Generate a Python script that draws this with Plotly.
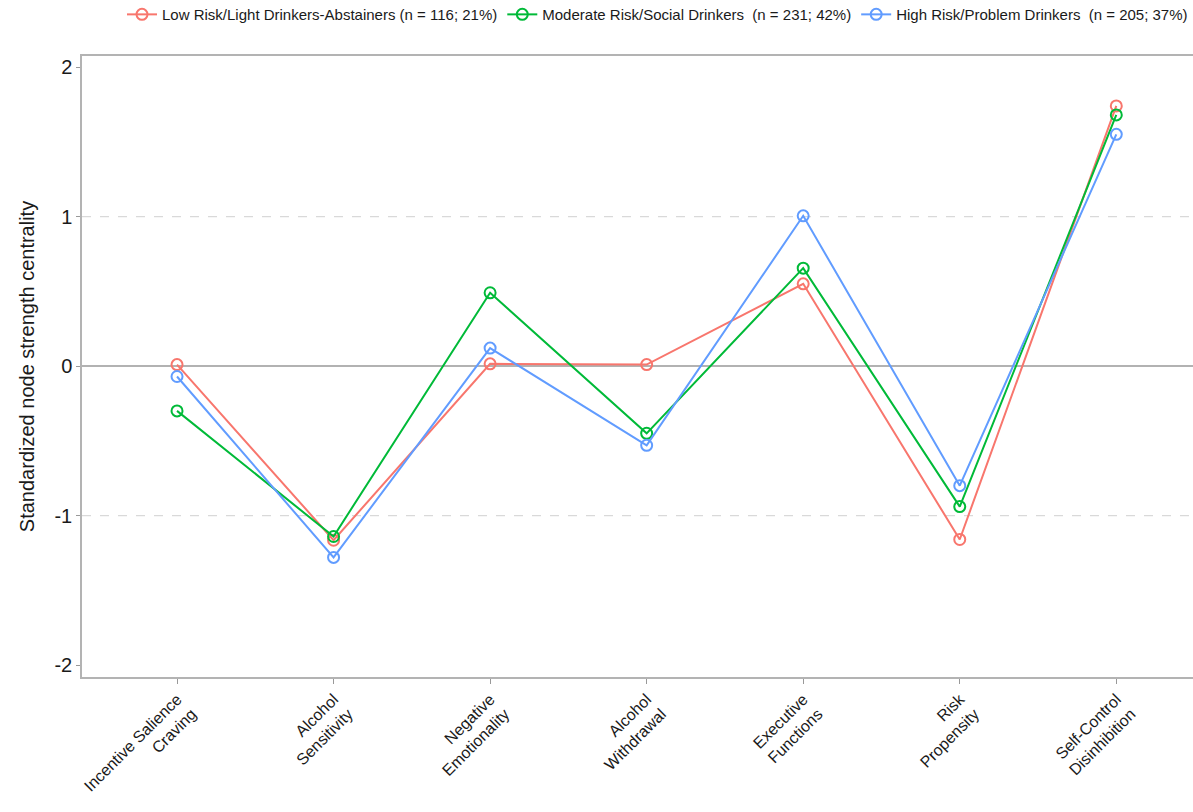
import plotly.graph_objects as go

categories = ["Incentive Salience<br>Craving", "Alcohol<br>Sensitivity", "Negative<br>Emotionality",
              "Alcohol<br>Withdrawal", "Executive<br>Functions", "Risk<br>Propensity",
              "Self-Control<br>Disinhibition"]
series_names = ["Low Risk/Light Drinkers-Abstainers (n = 116; 21%)",
                "Moderate Risk/Social Drinkers  (n = 231; 42%)",
                "High Risk/Problem Drinkers  (n = 205; 37%)"]
low_risk = [0.01, -1.165, 0.015, 0.01, 0.55, -1.16, 1.74]
moderate_risk = [-0.30, -1.14, 0.49, -0.45, 0.655, -0.94, 1.68]
high_risk = [-0.07, -1.28, 0.12, -0.53, 1.005, -0.80, 1.55]
colors = ["#F8766D", "#00BA38", "#619CFF"]
y_ticks = [-2, -1, 0, 1, 2]

fig = go.Figure()
xs = list(range(len(categories)))
for name, vals, col in zip(series_names, [low_risk, moderate_risk, high_risk], colors):
    fig.add_trace(go.Scatter(
        x=xs, y=vals, name=name, mode="lines+markers",
        line=dict(color=col, width=2),
        marker=dict(symbol="circle-open", size=11, color=col, line=dict(width=2, color=col)),
    ))

for yv in [-1, 1]:
    fig.add_shape(type="line", xref="paper", yref="y", x0=0, x1=1, y0=yv, y1=yv,
                  line=dict(color="#d9d9d9", width=1.2, dash="dash"), layer="below")
fig.add_shape(type="line", xref="paper", yref="y", x0=0, x1=1, y0=0, y1=0,
              line=dict(color="#999999", width=1.5), layer="below")

fig.update_layout(
    width=1193, height=812,
    margin=dict(l=82, r=0, t=56, b=135),
    paper_bgcolor="white", plot_bgcolor="white",
    font=dict(family="Liberation Sans, Arial, sans-serif", color="#1a1a1a"),
    legend=dict(orientation="h", x=1.0, xanchor="right", y=0.982, yanchor="middle",
                yref="container", font=dict(size=15), itemwidth=30,
                tracegroupgap=0, traceorder="normal"),
    xaxis=dict(range=[-0.607, 6.49], tickmode="array", tickvals=xs, ticktext=categories,
               tickangle=-45, tickfont=dict(size=16, color="#1a1a1a"),
               showline=True, linecolor="#b3b3b3", linewidth=1.5, mirror=True,
               ticks="outside", ticklen=5, tickcolor="#999999", showgrid=False, zeroline=False),
    yaxis=dict(range=[-2.08, 2.074], tickvals=y_ticks, ticktext=[str(v) for v in y_ticks],
               tickfont=dict(size=20, color="#1a1a1a"),
               showline=True, linecolor="#b3b3b3", linewidth=1.5,
               ticks="outside", ticklen=4, tickcolor="#999999", showgrid=False, zeroline=False,
               title=dict(text="Standardized node strength centrality", font=dict(size=20), standoff=14)),
)

fig.write_html("out.html")
